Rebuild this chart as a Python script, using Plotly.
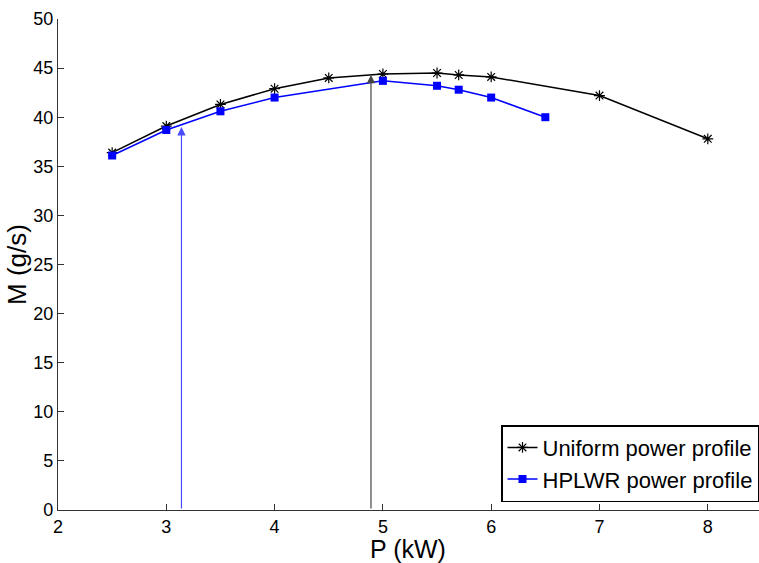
import plotly.graph_objects as go

# Mass flow rate versus power for the two axial power profiles
p_uniform = [2.5, 3.0, 3.5, 4.0, 4.5, 5.0, 5.5, 5.7, 6.0, 7.0, 8.0]
m_uniform = [36.4, 39.1, 41.3, 42.9, 44.0, 44.4, 44.5, 44.3, 44.1, 42.2, 37.8]

p_hplwr = [2.5, 3.0, 3.5, 4.0, 5.0, 5.5, 5.7, 6.0, 6.5]
m_hplwr = [36.1, 38.7, 40.6, 42.0, 43.7, 43.2, 42.8, 42.0, 40.0]

# Vertical arrows marking the optimum power of each profile
arrow_p = [3.14, 4.89]
arrow_m = [39.0, 44.3]
arrow_colors = ["#4a4aff", "#444444"]

x_ticks = [2, 3, 4, 5, 6, 7, 8]
y_ticks = [0, 5, 10, 15, 20, 25, 30, 35, 40, 45, 50]

FONT = "Liberation Sans Narrow, Liberation Sans, Arial, sans-serif"

W, H = 759, 563
ML, MR, MT, MB = 58, 0, 19, 53
PW, PH = W - ML - MR, H - MT - MB

fig = go.Figure()

fig.add_trace(go.Scatter(
    x=p_uniform, y=m_uniform, mode="lines+markers",
    name="Uniform power profile",
    line=dict(color="black", width=1.5),
    marker=dict(symbol="asterisk-open", size=9, color="black",
                line=dict(color="black", width=1.2)),
))

fig.add_trace(go.Scatter(
    x=p_hplwr, y=m_hplwr, mode="lines+markers",
    name="HPLWR power profile",
    line=dict(color="#0000ff", width=1.5),
    marker=dict(symbol="square", size=8, color="#0000ff"),
))

for xp, ym, col in zip(arrow_p, arrow_m, arrow_colors):
    fig.add_annotation(
        x=xp, y=ym, ax=xp, ay=0, xref="x", yref="y", axref="x", ayref="y",
        text="", showarrow=True, arrowhead=2, arrowsize=1.4, arrowwidth=1.2,
        arrowcolor=col, standoff=0,
    )

# Axis titles
fig.add_annotation(
    text="P (kW)", xref="paper", yref="paper",
    x=(408 - ML) / PW, y=0, yshift=-39, xanchor="center", yanchor="middle",
    showarrow=False, font=dict(family=FONT, size=25, color="black"),
)
fig.add_annotation(
    text="M (g/s)", xref="paper", yref="paper", textangle=-90,
    x=(17 - ML) / PW, y=(H - MB - 265) / PH, xanchor="center", yanchor="middle",
    showarrow=False, font=dict(family=FONT, size=26, color="black"),
)

fig.update_layout(
    width=W, height=H,
    margin=dict(l=ML, r=MR, t=MT, b=MB),
    paper_bgcolor="white", plot_bgcolor="white",
    font=dict(family=FONT, size=18, color="black"),
    showlegend=True,
    legend=dict(
        x=1.0, y=0.016, xanchor="right", yanchor="bottom",
        bgcolor="white", bordercolor="black", borderwidth=1.5,
        font=dict(family=FONT, size=22, color="black"),
        tracegroupgap=0, itemwidth=30,
    ),
)

fig.update_xaxes(
    range=[2, 8.473], tickvals=x_ticks, ticks="inside", ticklen=6,
    tickcolor="#333", showline=True, linecolor="#333", linewidth=1.2,
    showgrid=False, zeroline=False, mirror=False,
    tickfont=dict(family=FONT, size=18),
)
fig.update_yaxes(
    range=[0, 50], tickvals=y_ticks, ticks="inside", ticklen=6,
    tickcolor="#333", showline=True, linecolor="#333", linewidth=1.2,
    showgrid=False, zeroline=False, mirror=False,
    tickfont=dict(family=FONT, size=18),
)

fig.write_html("out.html")
